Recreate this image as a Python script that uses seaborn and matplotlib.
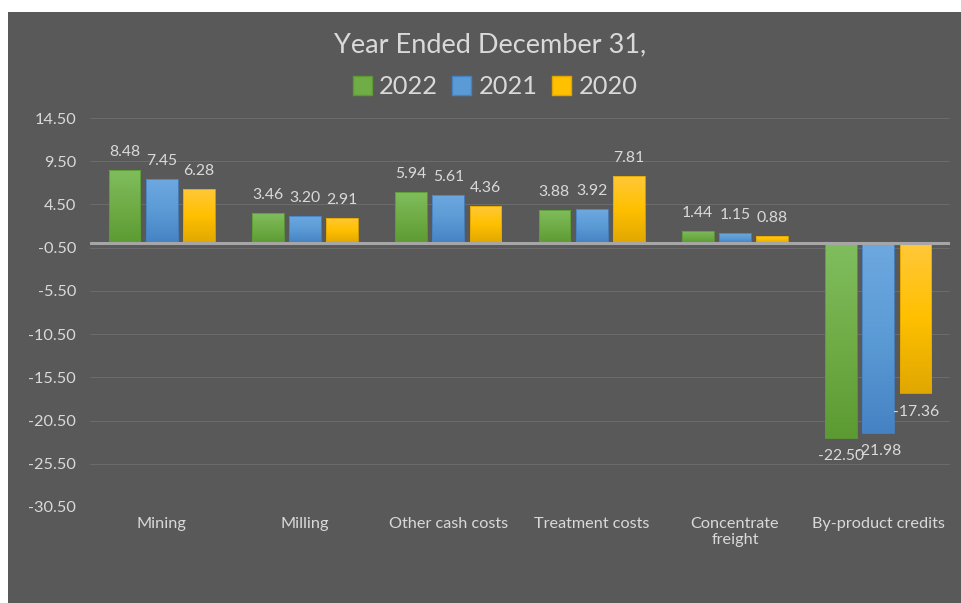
import numpy as np
import pandas as pd
import matplotlib
matplotlib.use("Agg")
import matplotlib.pyplot as plt
from matplotlib.patches import Rectangle, Patch
from matplotlib.colors import LinearSegmentedColormap
import seaborn as sns

categories = ["Mining", "Milling", "Other cash costs", "Treatment costs",
              "Concentrate\nfreight", "By-product credits"]
years = ["2022", "2021", "2020"]
values_2022 = [8.48, 3.46, 5.94, 3.88, 1.44, -22.50]
values_2021 = [7.45, 3.20, 5.61, 3.92, 1.15, -21.98]
values_2020 = [6.28, 2.91, 4.36, 7.81, 0.88, -17.36]
y_ticks = [14.50, 9.50, 4.50, -0.50, -5.50, -10.50, -15.50, -20.50, -25.50, -30.50]

df = pd.DataFrame({
    "category": categories * 3,
    "year": [years[0]] * 6 + [years[1]] * 6 + [years[2]] * 6,
    "value": values_2022 + values_2021 + values_2020,
})

# (top, middle, bottom) shades for each series gradient
shades = {
    "2022": ("#80BD5E", "#70AD47", "#5C9A32"),
    "2021": ("#6EA8E0", "#5B9BD5", "#4582C4"),
    "2020": ("#FFC83A", "#FFC000", "#E0A700"),
}
solid = {y: shades[y][1] for y in years}

BG = "#595959"
TXT = "#D9D9D9"

sns.set_theme(style="dark")
plt.rcParams["font.family"] = ["Lato", "DejaVu Sans"]

W, H = 962, 603
fig = plt.figure(figsize=(W / 100, H / 100), dpi=100, facecolor="white")
fig.patches.append(Rectangle((8 / W, 0), 1 - 8 / W, 1 - 12 / H,
                             transform=fig.transFigure, facecolor=BG,
                             edgecolor="none", zorder=-10))

ax = fig.add_axes([90 / W, 1 - 507 / H, 860 / W, (507 - 118) / H])
ax.set_facecolor(BG)

sns.barplot(data=df, x="category", y="value", hue="year", hue_order=years,
            order=categories, palette=solid, width=0.78, gap=0.15,
            legend=False, ax=ax, zorder=3)

ax.set_ylim(-30.5, 14.5)
ax.set_yticks(y_ticks)
ax.set_yticklabels([f"{t:.2f}" for t in y_ticks])
ax.set_xlim(-0.5, len(categories) - 0.5)
ax.set_xlabel("")
ax.set_ylabel("")
ax.grid(axis="y", color="#6B6B6B", linewidth=0.8, zorder=0)
ax.grid(axis="x", visible=False)
for s in ax.spines.values():
    s.set_visible(False)
ax.axhline(0, color="#A6A6A6", linewidth=2.2, zorder=4)
ax.tick_params(axis="y", colors=TXT, labelsize=11.7, length=0, pad=10)
ax.tick_params(axis="x", colors=TXT, labelsize=11.7, length=0, pad=7)

# vertical gradient fill for every bar, lighter at the top
for year, container in zip(years, ax.containers):
    cmap = LinearSegmentedColormap.from_list(year, list(shades[year]))
    grad = np.linspace(0, 1, 256).reshape(-1, 1)
    for bar in container:
        x0, y0 = bar.get_x(), bar.get_y()
        w, h = bar.get_width(), bar.get_height()
        lo, hi = min(y0, y0 + h), max(y0, y0 + h)
        bar.set_facecolor("none")
        bar.set_edgecolor(shades[year][2])
        bar.set_linewidth(0.6)
        im = ax.imshow(grad, cmap=cmap, aspect="auto",
                       extent=[x0, x0 + w, lo, hi], origin="upper",
                       zorder=2.9, interpolation="bilinear")
        im.set_clip_path(bar)
    ax.bar_label(container, fmt="%.2f", padding=8, color=TXT, fontsize=11.3)

ax.set_xlim(-0.5, len(categories) - 0.5)
ax.set_ylim(-30.5, 14.5)

fig.text(490 / W, 1 - 45 / H, "Year Ended December 31,", ha="center",
         va="center", color=TXT, fontsize=19.5)
handles = [Patch(facecolor=solid[y], edgecolor=shades[y][2], label=y) for y in years]
leg = fig.legend(handles=handles, loc="center", ncol=3,
                 bbox_to_anchor=(495 / W, 1 - 87 / H), frameon=False,
                 fontsize=18.3, handlelength=0.75, handleheight=0.75,
                 handletextpad=0.3, columnspacing=0.55, labelcolor=TXT)

fig.savefig("out.png", dpi=100, facecolor="white")
